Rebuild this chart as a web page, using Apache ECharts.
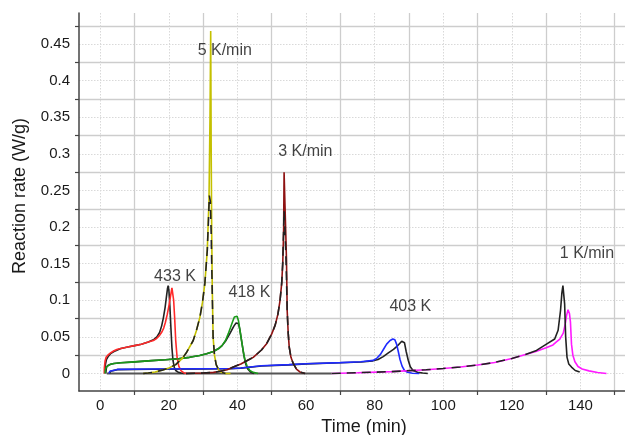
<!DOCTYPE html>
<html>
<head>
<meta charset="utf-8">
<script src="https://cdn.jsdelivr.net/npm/echarts@6/dist/echarts.min.js"></script>
<style>
  html, body { margin: 0; padding: 0; background: #fff; }
  #chart { width: 625px; height: 435px; }
</style>
</head>
<body>
<div id="chart"></div>
<script>
// Axis tick / label values
const timeLabels = [0, 20, 40, 60, 80, 100, 120, 140, 160];
const timeTicks = [10, 30, 50, 70, 90, 110, 130, 150];
const rateLabels = [0, 0.05, 0.1, 0.15, 0.2, 0.25, 0.3, 0.35, 0.4, 0.45];
const rateTicks = [0.025, 0.075, 0.125, 0.175, 0.225, 0.275, 0.325, 0.375, 0.425, 0.475];

// Isothermal 433 K: measured (red) and simulated (black)
const iso433T = [1.15, 1.2, 1.4, 1.7, 2.2, 3, 4, 5, 6, 8, 10, 12, 14, 15.5, 16.5, 17.3, 18, 18.5, 19, 19.5, 20, 20.5, 20.9, 21.1, 21.4, 21.7, 22, 22.4, 22.9, 23.5, 24.3, 25.2];
const iso433V = [0, 0.008, 0.017, 0.022, 0.025, 0.028, 0.031, 0.033, 0.034, 0.036, 0.038, 0.040, 0.043, 0.045, 0.048, 0.052, 0.057, 0.062, 0.070, 0.080, 0.092, 0.106, 0.117, 0.115, 0.100, 0.075, 0.045, 0.022, 0.010, 0.004, 0.001, 0];
const sim433T = [1.3, 1.5, 1.8, 2.3, 3, 4, 5, 6, 8, 10, 12, 14, 15.5, 16.5, 17.3, 17.9, 18.4, 18.9, 19.3, 19.6, 19.8, 20.0, 20.3, 20.6, 20.9, 21.2, 21.6, 22, 22.6, 23.5, 24.5];
const sim433V = [0, 0.012, 0.019, 0.023, 0.027, 0.030, 0.032, 0.034, 0.036, 0.038, 0.040, 0.043, 0.046, 0.050, 0.056, 0.065, 0.076, 0.090, 0.105, 0.116, 0.120, 0.114, 0.092, 0.062, 0.035, 0.018, 0.008, 0.004, 0.002, 0.0005, 0];

// Isothermal 418 K
const iso418T = [1.4, 1.5, 1.8, 2.3, 3, 4, 6, 9, 12, 15, 19, 23, 26, 29, 31, 33, 34.5, 35.5, 36.5, 37.3, 38, 38.6, 39.1, 39.5, 39.9, 40.3, 40.7, 41.2, 41.7, 42.2, 42.8, 43.6, 44.6, 46];
const iso418V = [0, 0.005, 0.009, 0.011, 0.0125, 0.0135, 0.0145, 0.0155, 0.0165, 0.0175, 0.0187, 0.020, 0.022, 0.0245, 0.027, 0.030, 0.034, 0.038, 0.045, 0.054, 0.063, 0.071, 0.077, 0.079, 0.078, 0.072, 0.060, 0.045, 0.030, 0.018, 0.010, 0.004, 0.0015, 0];
const sim418T = [1.6, 1.8, 2.2, 3, 4, 6, 9, 12, 15, 19, 23, 26, 29, 31, 33, 34.5, 35.5, 36.5, 37.5, 38.3, 39, 39.6, 40.0, 40.3, 40.7, 41.1, 41.5, 41.9, 42.4, 43, 43.8, 44.8];
const sim418V = [0, 0.008, 0.011, 0.0125, 0.0135, 0.0145, 0.0155, 0.0165, 0.0175, 0.0188, 0.0202, 0.022, 0.0245, 0.027, 0.030, 0.034, 0.038, 0.044, 0.052, 0.059, 0.065, 0.069, 0.070, 0.068, 0.060, 0.048, 0.036, 0.024, 0.013, 0.006, 0.002, 0];

// Isothermal 403 K
const iso403T = [2.5, 2.8, 3.3, 5, 15, 30, 38, 41, 47, 55, 60, 70, 76, 79.6, 80.7, 81.7, 82.6, 83.5, 84.5, 85.3, 85.9, 86.4, 86.9, 87.4, 88, 88.7, 89.6, 91, 93];
const iso403V = [0, 0.003, 0.0048, 0.0055, 0.006, 0.0065, 0.0068, 0.0075, 0.0105, 0.012, 0.0133, 0.0148, 0.016, 0.0178, 0.021, 0.026, 0.033, 0.040, 0.045, 0.047, 0.046, 0.040, 0.030, 0.019, 0.010, 0.004, 0.0015, 0.0003, 0];
const sim403T = [2.7, 3, 3.5, 5, 15, 30, 38, 41, 47, 55, 60, 70, 76, 79.5, 81, 82.5, 84, 85.5, 86.5, 87.3, 87.9, 88.3, 88.7, 89.2, 89.8, 90.4, 91.2, 92.5, 94, 95.5];
const sim403V = [0, 0.003, 0.0045, 0.0052, 0.0057, 0.0062, 0.0065, 0.0072, 0.0102, 0.0117, 0.013, 0.0145, 0.0157, 0.0172, 0.019, 0.023, 0.028, 0.033, 0.037, 0.041, 0.044, 0.046, 0.042, 0.030, 0.018, 0.009, 0.004, 0.0015, 0.0005, 0];

// Heating ramp 5 K/min
const ramp5T = [12.5, 14, 16, 18, 20, 22, 24, 25.2, 27.1, 28, 29.06, 29.8, 30.5, 31.2, 31.7, 32.0, 32.2, 32.35, 32.5, 32.65, 32.9, 33.3, 33.8, 34.5, 35.3, 36.5, 38];
const ramp5V = [0, 0.0005, 0.002, 0.0045, 0.0075, 0.012, 0.021, 0.029, 0.045, 0.058, 0.077, 0.097, 0.123, 0.168, 0.237, 0.350, 0.468, 0.300, 0.190, 0.120, 0.050, 0.025, 0.012, 0.005, 0.0015, 0, 0];
const sim5T = [12.5, 14, 16, 18, 20, 22, 24, 25.2, 27.1, 28, 29.06, 29.8, 30.5, 31.2, 31.6, 31.8, 32.1, 32.35, 32.5, 32.65, 32.9, 33.3, 33.8, 34.5, 35.3, 36.5];
const sim5V = [0, 0.0005, 0.002, 0.0045, 0.0075, 0.012, 0.021, 0.029, 0.045, 0.058, 0.077, 0.097, 0.123, 0.168, 0.215, 0.243, 0.235, 0.190, 0.150, 0.110, 0.050, 0.025, 0.012, 0.005, 0.0015, 0];

// Heating ramp 3 K/min
const ramp3T = [25, 30, 33, 35, 37, 38.8, 41, 43, 44.6, 47, 48.5, 50, 51, 51.8, 52.4, 52.9, 53.2, 53.45, 53.6, 53.8, 54.1, 54.3, 54.5, 54.8, 55.1, 55.6, 56.3, 57.2, 58.2, 59.7];
const ramp3V = [0, 0.0005, 0.0015, 0.003, 0.005, 0.0087, 0.013, 0.018, 0.022, 0.032, 0.0406, 0.054, 0.066, 0.081, 0.099, 0.123, 0.150, 0.190, 0.275, 0.240, 0.190, 0.155, 0.086, 0.055, 0.036, 0.022, 0.0133, 0.006, 0.002, 0];
const sim3T = [25, 30, 33, 35, 37, 38.8, 41, 43, 44.6, 47, 48.5, 50, 51, 51.8, 52.4, 52.9, 53.2, 53.6, 53.8, 54.1, 54.3, 54.5, 54.8, 55.1, 55.6, 56.3, 57.2, 58.2, 59.7];
const sim3V = [0, 0.0005, 0.0015, 0.003, 0.005, 0.0087, 0.013, 0.018, 0.022, 0.032, 0.0406, 0.054, 0.066, 0.081, 0.099, 0.123, 0.150, 0.222, 0.200, 0.165, 0.130, 0.086, 0.055, 0.036, 0.022, 0.0133, 0.006, 0.002, 0];

// Heating ramp 1 K/min
const ramp1T = [67.5, 75, 85, 95, 100, 105, 110, 115, 120, 124, 127, 130, 132, 133, 134, 135, 135.6, 136, 136.4, 136.8, 137.1, 137.4, 137.8, 138.4, 139.3, 140.5, 142.5, 145, 147.6];
const ramp1V = [0, 0.001, 0.0025, 0.005, 0.0068, 0.0088, 0.0115, 0.015, 0.0205, 0.026, 0.030, 0.035, 0.039, 0.043, 0.047, 0.055, 0.068, 0.080, 0.087, 0.082, 0.070, 0.040, 0.025, 0.016, 0.0095, 0.006, 0.0035, 0.0012, 0];
const sim1BaseT = [1.9, 67.5];
const sim1BaseV = [0, 0];
const sim1T = [67.5, 75, 85, 95, 100, 105, 110, 115, 120, 124];
const sim1V = [0, 0.001, 0.0025, 0.005, 0.0068, 0.0088, 0.0115, 0.015, 0.0205, 0.026];
const sim1PeakT = [124, 127.2, 130.1, 132.5, 133.5, 134.2, 134.6, 134.9, 135.4, 135.7, 136.1, 136.6, 137.4, 138.5, 139.8];
const sim1PeakV = [0.026, 0.0315, 0.040, 0.047, 0.059, 0.086, 0.110, 0.120, 0.095, 0.050, 0.022, 0.013, 0.0087, 0.004, 0.002];

// Curve annotations (anchored in data units)
const noteText = ['5 K/min', '3 K/min', '433 K', '418 K', '403 K', '1 K/min'];
const noteTime = [36.3, 59.8, 21.8, 43.5, 90.4, 141.9];
const noteRate = [0.441, 0.3027, 0.1317, 0.1104, 0.0917, 0.164];

const pairs = (t, v) => t.map((x, i) => [x, v[i]]);
const FONT = '"Liberation Sans", Arial, Helvetica, sans-serif';

function curve(t, v, color, dashed, width, z) {
  return {
    type: 'line',
    data: pairs(t, v),
    showSymbol: false,
    symbol: 'none',
    silent: true,
    lineStyle: { color: color, width: width || 1.6, type: dashed ? [9, 6] : 'solid' },
    z: z || 3
  };
}

const chart = echarts.init(document.getElementById('chart'), null, { renderer: 'canvas' });

const axisText = { color: '#1a1a1a', fontSize: 15, fontFamily: FONT };

chart.setOption({
  animation: false,
  backgroundColor: '#ffffff',
  grid: { left: 79, top: 13, width: 570, height: 378, containLabel: false, outerBoundsMode: 'none' },
  xAxis: [
    {
      type: 'value', min: -6.2, max: 160,
      name: 'Time (min)', nameLocation: 'middle', nameGap: 26,
      nameTextStyle: { color: '#1a1a1a', fontSize: 18, fontFamily: FONT },
      axisLine: { show: true, onZero: false, lineStyle: { color: '#444', width: 1.5 } },
      axisTick: { show: true, inside: false, length: 4, customValues: timeTicks, lineStyle: { color: '#444', width: 1.2 } },
      axisLabel: { show: true, margin: 7, customValues: timeLabels, ...axisText },
      splitLine: { show: true, lineStyle: { color: '#cdcdcd', width: 1.3, type: 'solid' } }
    },
    {
      type: 'value', min: -6.2, max: 160, position: 'bottom',
      axisLine: { show: false },
      axisTick: { show: false, customValues: timeLabels },
      axisLabel: { show: false, customValues: timeLabels },
      splitLine: { show: true, lineStyle: { color: '#d9d9d9', width: 1, type: [1.5, 1.5] } }
    }
  ],
  yAxis: [
    {
      type: 'value', min: -0.024, max: 0.4925,
      name: 'Reaction rate (W/g)', nameLocation: 'middle', nameGap: 50,
      nameTextStyle: { color: '#1a1a1a', fontSize: 18, fontFamily: FONT, padding: [0, 0, 0, 12] },
      axisLine: { show: true, onZero: false, lineStyle: { color: '#444', width: 1.5 } },
      axisTick: { show: true, inside: false, length: 4, customValues: rateTicks, lineStyle: { color: '#444', width: 1.2 } },
      axisLabel: { show: true, margin: 9, customValues: rateLabels, ...axisText },
      splitLine: { show: true, lineStyle: { color: '#cdcdcd', width: 1.3, type: 'solid' } }
    },
    {
      type: 'value', min: -0.024, max: 0.4925, position: 'left',
      axisLine: { show: false },
      axisTick: { show: false, customValues: rateLabels },
      axisLabel: { show: false, customValues: rateLabels },
      splitLine: { show: true, lineStyle: { color: '#d9d9d9', width: 1, type: [1.5, 1.5] } }
    }
  ],
  series: [
    curve(sim1BaseT, sim1BaseV, '#555555', false, 2, 2),
    // isothermal simulations sit underneath the measured traces
    curve(sim433T, sim433V, '#222222', false, 1.6, 3),
    curve(sim418T, sim418V, '#222222', false, 1.6, 3),
    curve(sim403T, sim403V, '#222222', false, 1.6, 3),
    curve(iso433T, iso433V, '#ff2a2a', false, 1.6, 4),
    curve(iso418T, iso418V, '#1a9a1a', false, 1.6, 4),
    curve(iso403T, iso403V, '#1f2bff', false, 1.6, 4),
    curve(ramp5T, ramp5V, '#c4c000', false, 1.6, 4),
    curve(ramp3T, ramp3V, '#8e1212', false, 1.6, 4),
    curve(ramp1T, ramp1V, '#ff1aff', false, 1.6, 4),
    // ramp simulations drawn dashed on top
    curve(sim5T, sim5V, '#222222', true, 1.6, 5),
    curve(sim3T, sim3V, '#222222', true, 1.6, 5),
    curve(sim1T, sim1V, '#222222', true, 1.6, 5),
    curve(sim1PeakT, sim1PeakV, '#222222', false, 1.6, 5),
    {
      type: 'scatter',
      symbolSize: 0,
      silent: true,
      data: noteText.map((s, i) => ({ name: s, value: [noteTime[i], noteRate[i]] })),
      label: {
        show: true, position: 'inside', formatter: '{b}',
        color: '#111', fontSize: 16, fontFamily: FONT
      },
      z: 6
    }
  ]
});
</script>
</body>
</html>
